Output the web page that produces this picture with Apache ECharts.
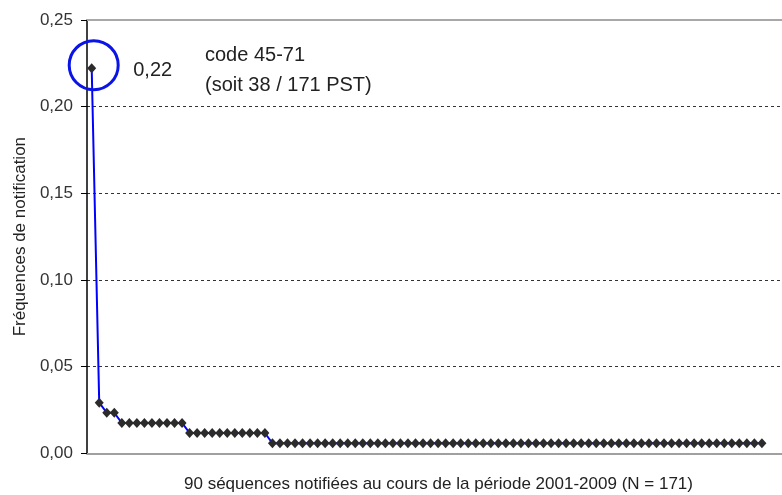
<!DOCTYPE html>
<html>
<head>
<meta charset="utf-8">
<script src="https://cdn.jsdelivr.net/npm/echarts@6/dist/echarts.min.js"></script>
<style>
  html, body { margin: 0; padding: 0; background: #fff; }
  #chart { width: 782px; height: 495px; }
</style>
</head>
<body>
<div id="chart"></div>
<script>
// Notification frequency of each of the 90 sequences (ranked, N = 171)
const frequencies = [
  0.2222, 0.0292, 0.0234, 0.0234,
  0.0175, 0.0175, 0.0175, 0.0175, 0.0175, 0.0175, 0.0175, 0.0175, 0.0175,
  0.0117, 0.0117, 0.0117, 0.0117, 0.0117, 0.0117, 0.0117, 0.0117, 0.0117, 0.0117, 0.0117,
  0.0058, 0.0058, 0.0058, 0.0058, 0.0058, 0.0058, 0.0058, 0.0058, 0.0058, 0.0058,
  0.0058, 0.0058, 0.0058, 0.0058, 0.0058, 0.0058, 0.0058, 0.0058, 0.0058, 0.0058,
  0.0058, 0.0058, 0.0058, 0.0058, 0.0058, 0.0058, 0.0058, 0.0058, 0.0058, 0.0058,
  0.0058, 0.0058, 0.0058, 0.0058, 0.0058, 0.0058, 0.0058, 0.0058, 0.0058, 0.0058,
  0.0058, 0.0058, 0.0058, 0.0058, 0.0058, 0.0058, 0.0058, 0.0058, 0.0058, 0.0058,
  0.0058, 0.0058, 0.0058, 0.0058, 0.0058, 0.0058, 0.0058, 0.0058, 0.0058, 0.0058,
  0.0058, 0.0058, 0.0058, 0.0058, 0.0058, 0.0058
];
const yTickLabels = ['0,00', '0,05', '0,10', '0,15', '0,20', '0,25'];
const yAxisTitle = 'Fréquences de notification';
const xAxisTitle = '90 séquences notifiées au cours de la période 2001-2009 (N = 171)';
const noteLines = ['code 45-71', '(soit 38 / 171 PST)'];

const points = frequencies.map((v, i) => [i, v]);
const fontFamily = 'Arial, "Liberation Sans", sans-serif';

const chart = echarts.init(document.getElementById('chart'), null, { renderer: 'canvas' });

chart.setOption({
  animation: false,
  backgroundColor: '#ffffff',
  textStyle: { fontFamily: fontFamily },
  // plot area runs slightly past the right edge of the canvas
  grid: {
    left: 87, top: 20, width: 703, height: 433.3,
    containLabel: false, outerBoundsMode: 'none'
  },
  xAxis: [
    {
      type: 'value', min: -0.624, max: 92.73,
      position: 'bottom',
      name: xAxisTitle, nameLocation: 'middle', nameGap: 23,
      nameTextStyle: { fontSize: 17, color: '#222', fontFamily: fontFamily },
      axisLine: { show: true, onZero: false, lineStyle: { color: '#a0a0a0', width: 2 } },
      axisTick: { show: false }, axisLabel: { show: false }, splitLine: { show: false }
    },
    {
      type: 'value', min: -0.624, max: 92.73,
      position: 'top',
      axisLine: { show: true, onZero: false, lineStyle: { color: '#a8a8a8', width: 2 } },
      axisTick: { show: false }, axisLabel: { show: false }, splitLine: { show: false }
    }
  ],
  yAxis: {
    type: 'value', min: 0, max: 0.25, interval: 0.05,
    name: yAxisTitle, nameLocation: 'middle', nameGap: 56, nameRotate: 90,
    nameTextStyle: { fontSize: 17, color: '#222', fontFamily: fontFamily },
    axisLine: { show: true, onZero: false, lineStyle: { color: '#000', width: 1.5 } },
    axisTick: { show: true, inside: false, length: 6, lineStyle: { color: '#000', width: 1 } },
    axisLabel: {
      fontSize: 17, color: '#333', margin: 14,
      formatter: (v) => yTickLabels[Math.round(v / 0.05)]
    },
    splitLine: {
      show: true, showMinLine: false, showMaxLine: false,
      lineStyle: { color: '#333', width: 1, type: [3, 3] }
    }
  },
  series: [{
    type: 'line',
    data: points,
    lineStyle: { color: '#0000ff', width: 2 },
    symbol: 'diamond',
    symbolSize: [9, 10],
    showAllSymbol: true,
    itemStyle: { color: '#2b2b2b' },
    label: {
      show: true,
      position: 'right',
      distance: 37,
      offset: [0, 2],
      fontSize: 20,
      color: '#222',
      formatter: (p) => p.dataIndex === 0 ? p.value[1].toFixed(2).replace('.', ',') : ''
    },
    markPoint: {
      silent: true,
      data: [{
        coord: points[0],
        symbol: 'circle',
        symbolSize: 49,
        symbolOffset: [2, -3],
        itemStyle: { color: 'rgba(0,0,0,0)', borderColor: '#0a14e6', borderWidth: 3 },
        label: { show: false }
      }]
    }
  }],
  graphic: [{
    type: 'text',
    left: 205, top: 40,
    style: {
      text: noteLines.join('\n'),
      font: '20px ' + fontFamily,
      lineHeight: 30,
      fill: '#222'
    }
  }]
});
</script>
</body>
</html>
